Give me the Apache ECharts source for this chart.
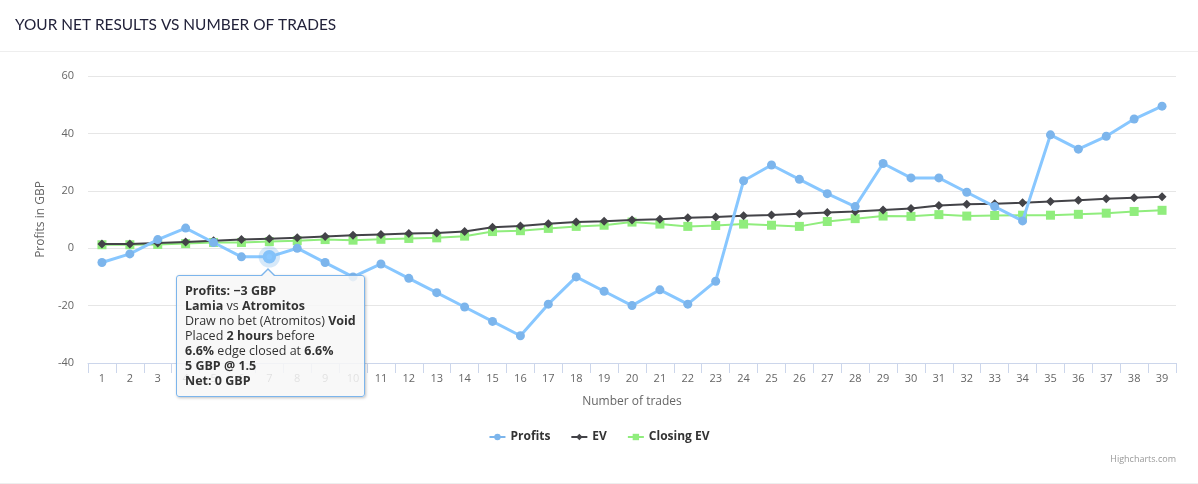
<!DOCTYPE html>
<html>
<head>
<meta charset="utf-8">
<script src="https://cdn.jsdelivr.net/npm/echarts@6/dist/echarts.min.js"></script>
<style>
html,body{margin:0;padding:0;background:#fff;}
#chart{width:1198px;height:484px;}
</style>
</head>
<body>
<div id="chart"></div>
<script>
var categories = ['1','2','3','4','5','6','7','8','9','10','11','12','13','14','15','16','17','18','19','20','21','22','23','24','25','26','27','28','29','30','31','32','33','34','35','36','37','38','39'];
var profits = [-5,-2,3,7,2,-3,-3,0,-5,-10,-5.5,-10.5,-15.5,-20.5,-25.5,-30.5,-19.5,-10,-15,-20,-14.5,-19.5,-11.5,23.5,29,24,19,14.5,29.5,24.5,24.5,19.5,14.5,9.5,39.5,34.5,39,45,49.5];
var ev = [1.5,1.5,1.8,2.2,2.6,3.0,3.3,3.6,4.1,4.5,4.8,5.1,5.3,5.8,7.3,7.7,8.5,9.1,9.4,9.8,10.1,10.6,10.9,11.3,11.6,12.0,12.4,12.8,13.3,13.8,14.9,15.3,15.5,15.8,16.3,16.7,17.2,17.6,17.9];
var closingEv = [1.2,1.2,1.3,1.6,2.0,2.0,2.3,2.6,3.0,2.8,3.1,3.4,3.6,4.2,5.8,6.1,6.9,7.6,8.0,9.1,8.4,7.6,7.9,8.4,8.0,7.6,9.3,10.3,11.2,11.1,11.7,11.2,11.4,11.5,11.5,11.8,12.2,12.8,13.2];
var yTicks = {min: -40, max: 60, interval: 20};
// Tooltip details for the hovered trade (trade 7)
var tipTrade = 7;
var tipHome = 'Lamia';
var tipAway = 'Atromitos';
var tipMarket = 'Draw no bet (Atromitos)';
var tipResult = 'Void';
var tipPlaced = '2 hours';
var tipEdge = '6.6%';
var tipClosedEdge = '6.6%';
var tipStake = '5 GBP';
var tipOdds = '1.5';
var tipNet = '0 GBP';

var FONT = '"Open Sans", "Noto Sans", sans-serif';
var chart = echarts.init(document.getElementById('chart'), null, {renderer: 'canvas'});

function fmtNum(v){ return (v < 0 ? '\u2212' + Math.abs(v) : String(v)); }

var option = {
  animation: false,
  textStyle: {fontFamily: FONT},
  graphic: [
    {type: 'text', left: 15, top: 18, style: {text: 'YOUR NET RESULTS VS NUMBER OF TRADES', fill: '#22223a', font: '400 15.4px Lato, "Open Sans", sans-serif'}},
    {type: 'rect', left: 0, top: 51, shape: {width: 1198, height: 1}, style: {fill: '#eeeeee'}},
    {type: 'rect', left: 0, top: 483, shape: {width: 1198, height: 1}, style: {fill: '#eeeeee'}},
    {type: 'text', right: 22, top: 455, style: {text: 'Highcharts.com', fill: '#999999', font: '9px ' + FONT}}
  ],
  grid: {left: 88, right: 22, top: 76, bottom: 121},
  legend: {
    bottom: 36,
    left: 'center',
    itemWidth: 16,
    itemHeight: 8,
    itemGap: 20,
    textStyle: {color: '#333333', fontWeight: 'bold', fontSize: 12, fontFamily: FONT},
    data: ['Profits', 'EV', 'Closing EV']
  },
  tooltip: {
    trigger: 'item',
    triggerOn: 'none',
    alwaysShowContent: true,
    transitionDuration: 0,
    position: function(){ return [176, 275]; },
    backgroundColor: 'rgba(247,247,247,0.85)',
    borderColor: '#7cb5ec',
    borderWidth: 1,
    padding: [7, 8, 8, 8],
    extraCssText: 'border-radius:3px;box-shadow:1px 1px 3px rgba(0,0,0,0.25);line-height:15px;overflow:visible;',
    textStyle: {color: '#333333', fontSize: 12.5, fontFamily: FONT},
    formatter: function(p){
      var b = function(s){ return '<b>' + s + '</b>'; };
      return '<div style="position:relative">' +
        '<div style="position:absolute;left:76px;top:-15px;width:0;height:0;border-left:7px solid transparent;border-right:7px solid transparent;border-bottom:7px solid #7cb5ec;"></div>' +
        '<div style="position:absolute;left:77px;top:-13px;width:0;height:0;border-left:6px solid transparent;border-right:6px solid transparent;border-bottom:6px solid #f7f7f7;"></div>' +
        b('Profits: ' + fmtNum(p.value) + ' GBP') + '<br>' +
        b(tipHome) + ' vs ' + b(tipAway) + '<br>' +
        tipMarket + ' ' + b(tipResult) + '<br>' +
        'Placed ' + b(tipPlaced) + ' before<br>' +
        b(tipEdge) + ' edge closed at ' + b(tipClosedEdge) + '<br>' +
        b(tipStake + ' @ ' + tipOdds) + '<br>' +
        b('Net: ' + tipNet) + '</div>';
    }
  },
  xAxis: {
    type: 'category',
    data: categories,
    boundaryGap: true,
    name: 'Number of trades',
    nameLocation: 'middle',
    nameGap: 33,
    nameTextStyle: {color: '#666666', fontSize: 12, fontFamily: FONT},
    axisLine: {onZero: false, lineStyle: {color: '#ccd6eb'}},
    axisTick: {show: true, interval: 0, length: 10, lineStyle: {color: '#ccd6eb'}},
    axisLabel: {color: '#666666', fontSize: 11, margin: 10, interval: 0, fontFamily: FONT},
    splitLine: {show: false}
  },
  yAxis: {
    type: 'value',
    min: yTicks.min,
    max: yTicks.max,
    interval: yTicks.interval,
    name: 'Profits in GBP',
    nameLocation: 'middle',
    nameGap: 41,
    nameTextStyle: {color: '#666666', fontSize: 12, fontFamily: FONT},
    axisLine: {show: false},
    axisTick: {show: false},
    axisLabel: {color: '#666666', fontSize: 11, margin: 14, fontFamily: FONT},
    splitLine: {lineStyle: {color: '#e6e6e6'}}
  },
  series: [
    {
      name: 'Profits', type: 'line', data: profits, z: 3,
      symbol: 'circle', symbolSize: 9,
      lineStyle: {color: '#7cb5ec', width: 3},
      itemStyle: {color: '#7cb5ec'},
      emphasis: {scale: 1.5, itemStyle: {borderColor: 'rgba(124,181,236,0.3)', borderWidth: 8}, lineStyle: {width: 3}}
    },
    {
      name: 'EV', type: 'line', data: ev, z: 2,
      symbol: 'diamond', symbolSize: 9,
      lineStyle: {color: '#434348', width: 2},
      itemStyle: {color: '#434348'},
      emphasis: {disabled: true}
    },
    {
      name: 'Closing EV', type: 'line', data: closingEv, z: 1,
      symbol: 'rect', symbolSize: 9,
      lineStyle: {color: '#90ed7d', width: 2},
      itemStyle: {color: '#90ed7d'},
      emphasis: {disabled: true}
    }
  ]
};
chart.setOption(option);
chart.dispatchAction({type: 'highlight', seriesIndex: 0, dataIndex: tipTrade - 1});
chart.dispatchAction({type: 'showTip', seriesIndex: 0, dataIndex: tipTrade - 1});
</script>
</body>
</html>
